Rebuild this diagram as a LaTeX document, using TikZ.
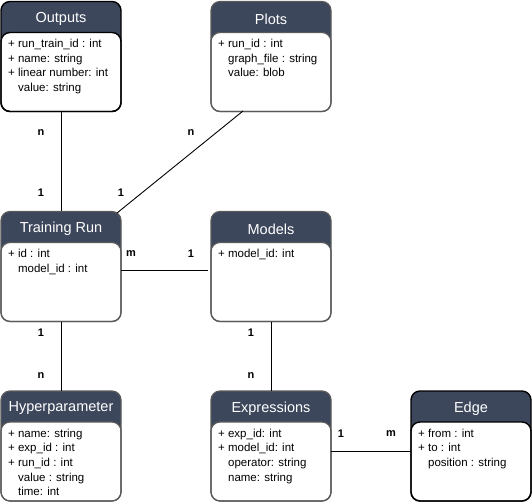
\documentclass[tikz,border=0pt]{standalone}
\usepackage{fontspec}
\setmainfont{Liberation Sans}
\definecolor{hdr}{HTML}{3D475C}
\definecolor{edgegray}{HTML}{5A5A5A}
\tikzset{
  lbl/.style={font=\fontsize{11}{13}\selectfont\bfseries, inner sep=0pt},
  conn/.style={draw=black, line width=0.9pt},
  attr/.style={font=\fontsize{11.5}{14.7}\selectfont, align=left, anchor=north west, inner sep=0pt},
  ttl/.style={font=\fontsize{14.5}{16}\selectfont, text=white, inner sep=0pt},
}
% #1 name, #2 x, #3 y, #4 title, #5 attrs, #6 border color, #7 border width
\newcommand{\umlbox}[7]{%
  \fill[hdr, rounded corners=9pt] (#2,#3) rectangle ++(120,-110);
  \filldraw[fill=white, draw=#6, line width=#7, rounded corners=9pt] (#2,#3-31) rectangle ++(120,-79);
  \draw[draw=#6, line width=#7, rounded corners=9pt] (#2,#3) rectangle ++(120,-110);
  \node[ttl] (#1t) at (#2+60,#3-17.5) {#4};
  \node[attr] (#1a) at (#2+7,#3-37.5) {#5};
  \coordinate (#1N) at (#2+60,#3);
  \coordinate (#1S) at (#2+60,#3-110);
}
\begin{document}
\begin{tikzpicture}[x=1pt,y=1pt]
\useasboundingbox (0,0) rectangle (532,-502);
\fill[white] (0,0) rectangle (532,-502);
\umlbox{out}{1}{-1.5}{Outputs}{+ run\_train\_id : int\\+ name: string\\+ linear number: int\\\hphantom{+ }value: string}{black}{1.4pt}
\umlbox{plots}{211}{-1.5}{Plots}{+ run\_id : int\\\hphantom{+ }graph\_file : string\\\hphantom{+ }value: blob}{edgegray}{1.2pt}
\umlbox{tr}{1}{-211.5}{Training Run}{+ id : int\\\hphantom{+ }model\_id : int}{edgegray}{1.2pt}
\umlbox{mod}{211}{-211.5}{Models}{+ model\_id: int}{edgegray}{1.2pt}
\umlbox{hyp}{1}{-391}{Hyperparameter}{+ name: string\\+ exp\_id : int\\+ run\_id : int\\\hphantom{+ }value : string\\\hphantom{+ }time: int}{edgegray}{1.2pt}
\umlbox{exp}{211}{-391}{Expressions}{+ exp\_id: int\\+ model\_id: int\\\hphantom{+ }operator: string\\\hphantom{+ }name: string}{edgegray}{1.2pt}
\umlbox{edge}{411}{-391}{Edge}{+ from : int\\+ to : int\\\hphantom{+ }position : string}{black}{1.4pt}
% connector end points
\coordinate (plotsfoot) at (243,-111);
\coordinate (trcorner) at (117,-213);
\coordinate (trR) at (121,-270);
\coordinate (modL) at (208,-270);
\coordinate (expR) at (331,-451);
\coordinate (edgeL) at (411,-451);
% connectors
\draw[conn] (outS) -- (trN);
\draw[conn] (plotsfoot) -- (trcorner);
\draw[conn] (trR) -- (modL);
\draw[conn] (trS) -- (hypN);
\draw[conn] (modS) -- (expN);
\draw[conn] (expR) -- (edgeL);
% multiplicity labels
\node[lbl] (l1) at (41,-133) {n};
\node[lbl] (l2) at (41,-193) {1};
\node[lbl] (l3) at (191,-133) {n};
\node[lbl] (l4) at (121,-193) {1};
\node[lbl] (l5) at (131,-254) {m};
\node[lbl] (l6) at (191,-254) {1};
\node[lbl] (l7) at (41,-333) {1};
\node[lbl] (l8) at (41,-376) {n};
\node[lbl] (l9) at (251,-333) {1};
\node[lbl] (l10) at (251,-376) {n};
\node[lbl] (l11) at (341,-434) {1};
\node[lbl] (l12) at (391,-434) {m};
\end{tikzpicture}
\end{document}
